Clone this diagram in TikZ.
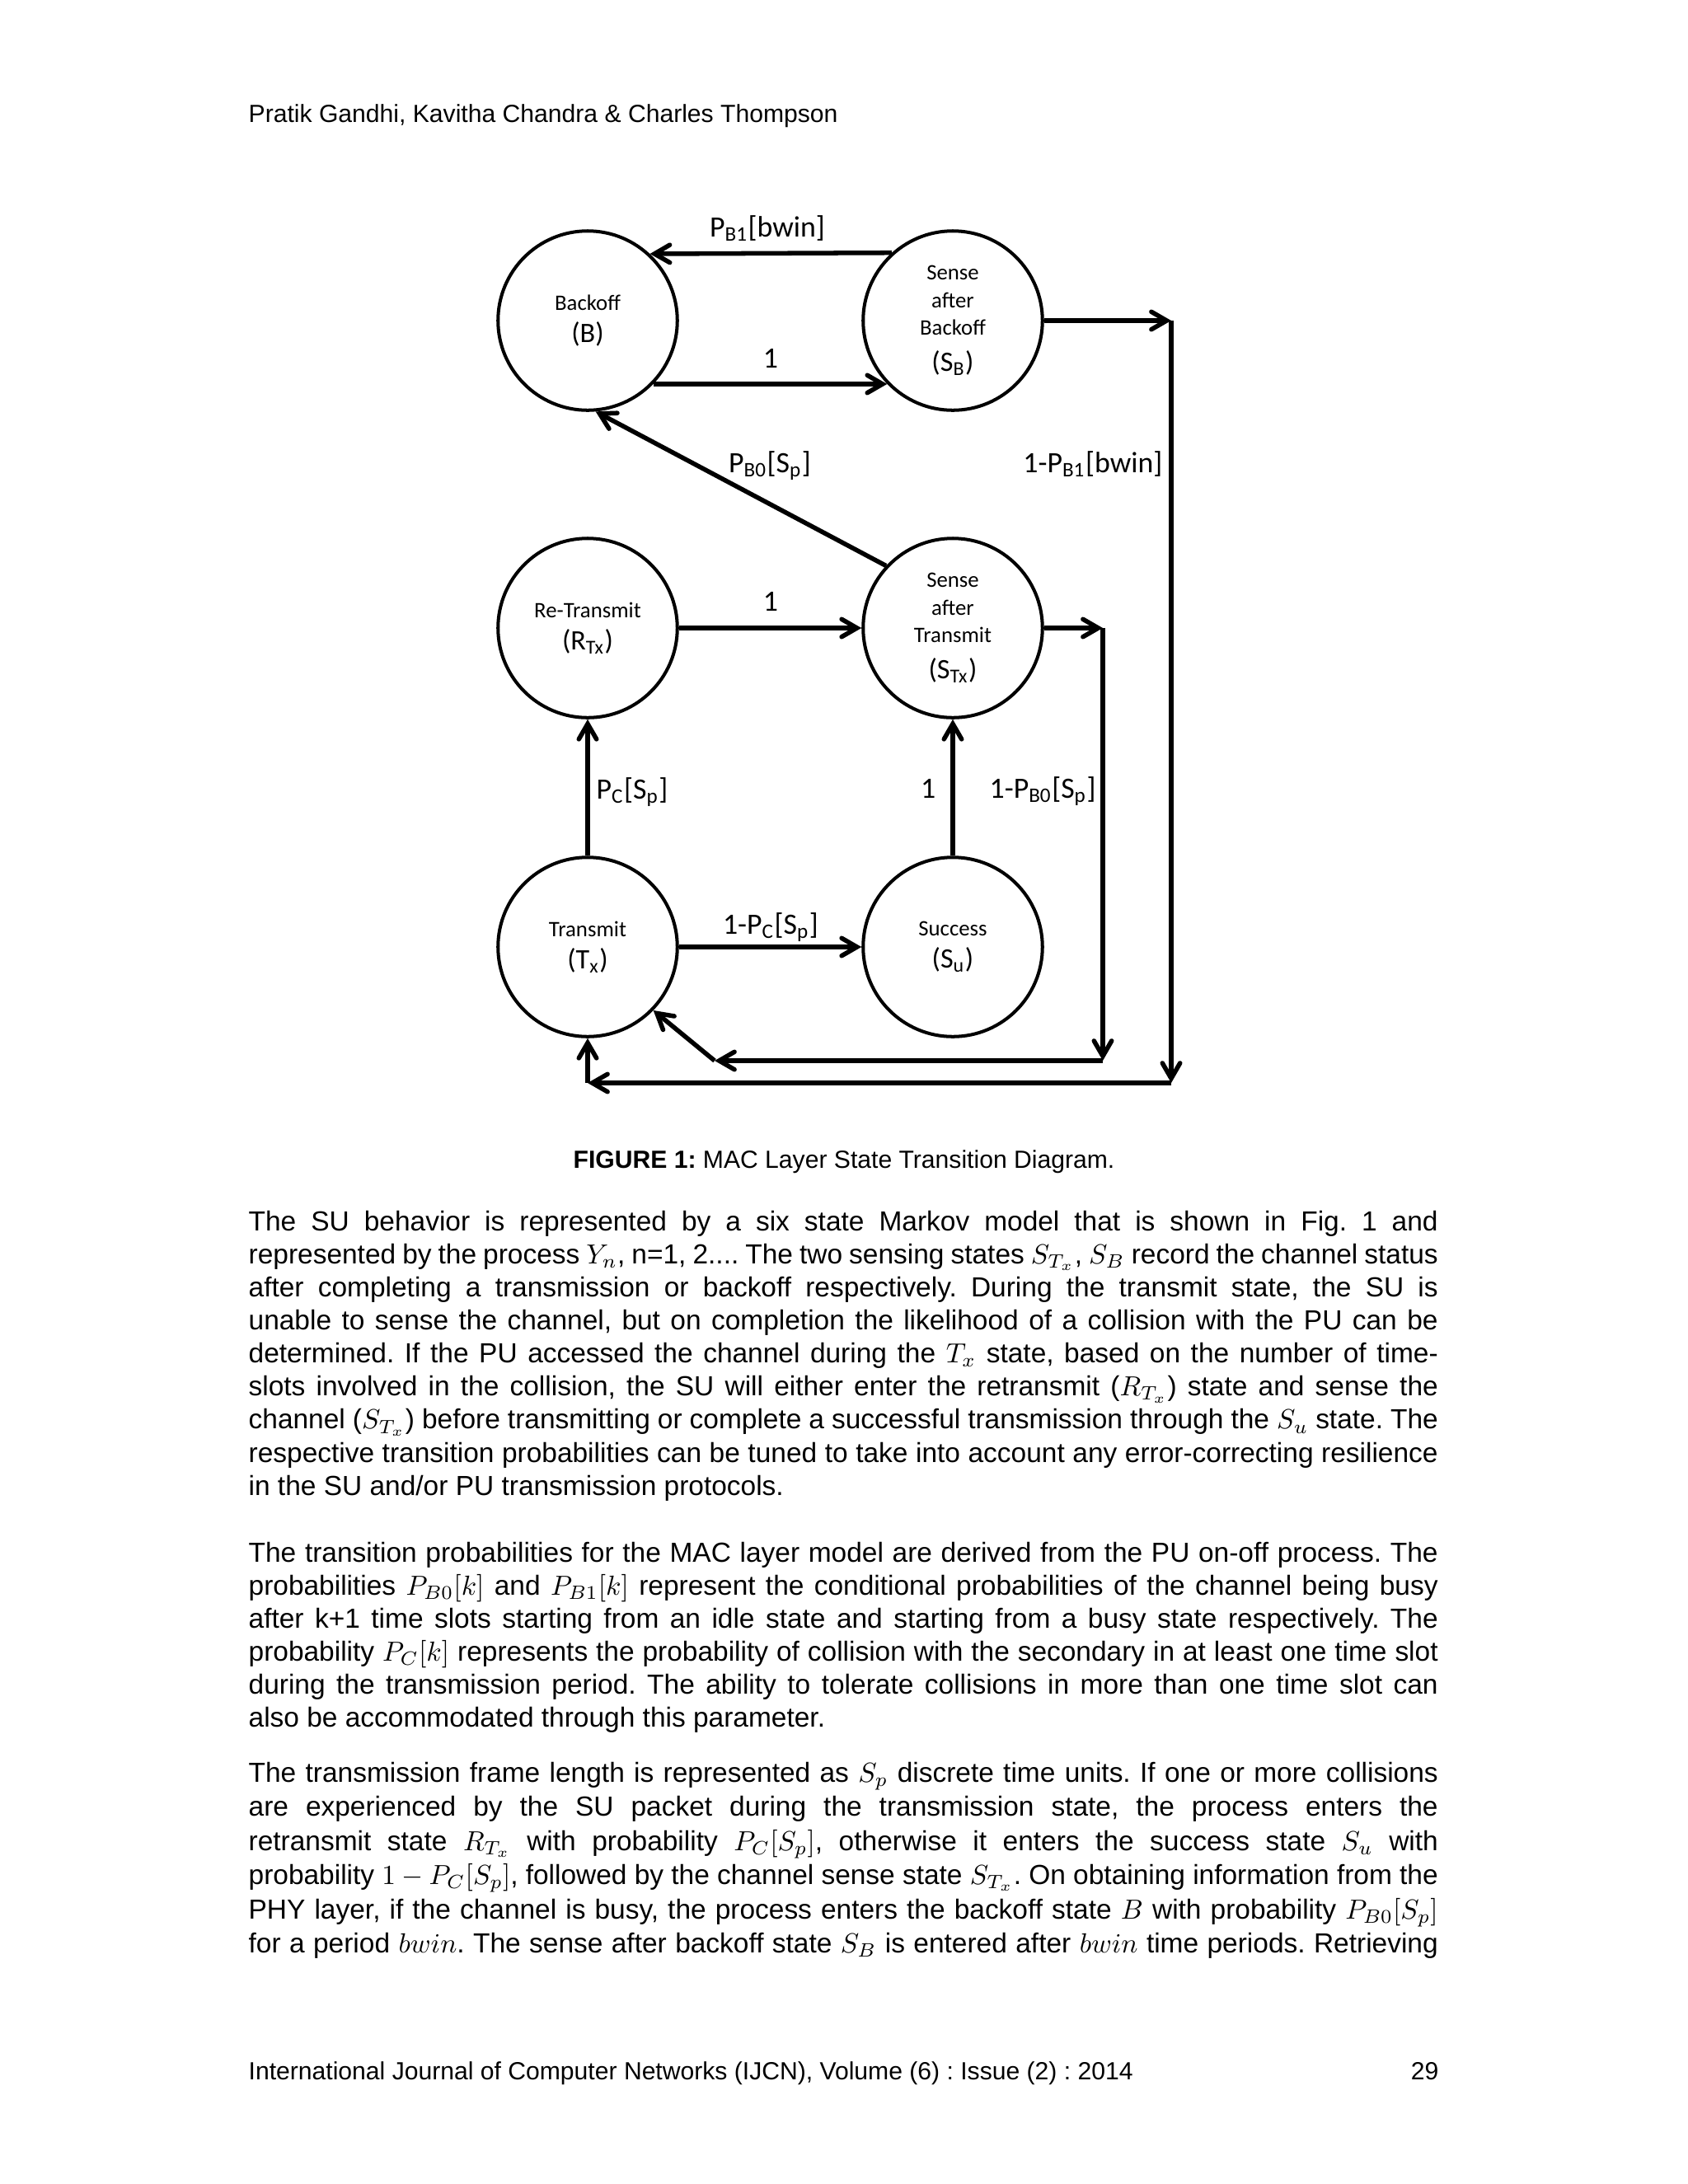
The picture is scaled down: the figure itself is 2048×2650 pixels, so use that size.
\documentclass[tikz,border=0pt]{standalone}
\usepackage{fontspec}
\setmainfont{Liberation Sans}
\newfontfamily\diagfont{Carlito}
\usetikzlibrary{arrows}
\frenchspacing

\newcommand\stname[1]{{\fontsize{8}{10}\selectfont #1}}
\newcommand\stsym[1]{{\fontsize{10.2}{12}\selectfont #1}}

\tikzset{
  state/.style={circle,draw,line width=1.2pt,minimum size=65pt,inner sep=0pt,
    align=center,font=\diagfont\fontsize{8}{10}\selectfont},
  trans/.style={line width=1.65pt,-{angle 60}},
  prob/.style={inner sep=0pt,anchor=base,font=\diagfont\fontsize{10.7}{12}\selectfont},
  para/.style={inner sep=0pt,anchor=base west,text width=431.2pt,align=justify,
    font=\fontsize{10}{12}\selectfont},
  small9/.style={inner sep=0pt,font=\fontsize{9}{11}\selectfont},
}

\begin{document}
\begin{tikzpicture}[x=0.2988pt,y=-0.2988pt]
  \fill[white] (0,0) rectangle (2048,2650);

  \node[small9,anchor=base west] (head) at (301,148)
    {Pratik Gandhi, Kavitha Chandra \& Charles Thompson};

  % the six states
  \node[state] (B)   at (713,389)  {\stname{Backoff}\\[1.7pt]\stsym{(B)}};
  \node[state] (SB)  at (1156,389) {Sense\\after\\Backoff\\[3.2pt]\stsym{(S\textsubscript{B})}};
  \node[state] (RTx) at (713,762)  {\stname{Re-Transmit}\\[1.7pt]\stsym{(R\textsubscript{Tx})}};
  \node[state] (STx) at (1156,762) {Sense\\after\\Transmit\\[3.2pt]\stsym{(S\textsubscript{Tx})}};
  \node[state] (Tx)  at (713,1149) {\stname{Transmit}\\[1.7pt]\stsym{(T\textsubscript{x})}};
  \node[state] (Su)  at (1156,1149) {\stname{Success}\\[1.7pt]\stsym{(S\textsubscript{u})}};

  % corners of the return paths
  \coordinate (c1) at (1338,762);
  \coordinate (c2) at (1338,1287);
  \coordinate (c3) at (867,1287);
  \coordinate (d1) at (1421,389);
  \coordinate (d2) at (1421,1314);
  \coordinate (d3) at (713,1314);

  \draw[trans] (SB.132.3) -- (B.47.7);
  \draw[trans] (B.-44) -- (SB.-136);
  \draw[trans] (STx.137) -- (B.-85);
  \draw[trans] (RTx) -- (STx);
  \draw[trans] (Tx) -- (Su);
  \draw[trans] (Tx) -- (RTx);
  \draw[trans] (Su) -- (STx);

  \draw[trans] (STx) -- (c1);
  \draw[trans] (c1) -- (c2);
  \draw[trans] (c2) -- (c3);
  \draw[trans] (c3) -- (Tx.-44);

  \draw[trans] (SB) -- (d1);
  \draw[trans] (d1) -- (d2);
  \draw[trans] (d2) -- (d3);
  \draw[trans] (d3) -- (Tx);

  % transition probabilities
  \node[prob] (lbwin) at (931,287) {P\textsubscript{B1}[bwin]};
  \node[prob] (lone1) at (935,446) {1};
  \node[prob] (lpbo)  at (934,573) {P\textsubscript{B0}[S\textsubscript{p}]};
  \node[prob,anchor=base east] (lstay) at (1411,573) {1-P\textsubscript{B1}[bwin]};
  \node[prob] (lone2) at (935,741) {1};
  \node[prob,anchor=base west] (lpc) at (723,969) {P\textsubscript{C}[S\textsubscript{p}]};
  \node[prob,anchor=base east] (lone3) at (1136,968) {1};
  \node[prob,anchor=base west] (lpbon) at (1200,968) {1-P\textsubscript{B0}[S\textsubscript{p}]};
  \node[prob] (lpcn) at (935,1133) {1-P\textsubscript{C}[S\textsubscript{p}]};

  \node[small9,anchor=base] (cap) at (1024,1417)
    {\textbf{FIGURE 1:} MAC Layer State Transition Diagram.};

  % body text
  \node[para] (par1) at (301,1493) {The SU behavior is represented by a six state Markov model that is shown in Fig. 1 and\linebreak
    represented by the process $Y_n$, n=1, 2.... The two sensing states $S_{T_x}$, $S_B$ record the channel status\linebreak
    after completing a transmission or backoff respectively. During the transmit state, the SU is\linebreak
    unable to sense the channel, but on completion the likelihood of a collision with the PU can be\linebreak
    determined. If the PU accessed the channel during the $T_x$ state, based on the number of time-\linebreak
    slots involved in the collision, the SU will either enter the retransmit ($R_{T_x}$) state and sense the\linebreak
    channel ($S_{T_x}$) before transmitting or complete a successful transmission through the $S_u$ state. The\linebreak
    respective transition probabilities can be tuned to take into account any error-correcting resilience\linebreak
    in the SU and/or PU transmission protocols.};

  \node[para] (par2) at (301,1895) {The transition probabilities for the MAC layer model are derived from the PU on-off process. The\linebreak
    probabilities $P_{B0}[k]$ and $P_{B1}[k]$ represent the conditional probabilities of the channel being busy\linebreak
    after k+1 time slots starting from an idle state and starting from a busy state respectively. The\linebreak
    probability $P_C[k]$ represents the probability of collision with the secondary in at least one time slot\linebreak
    during the transmission period. The ability to tolerate collisions in more than one time slot can\linebreak
    also be accommodated through this parameter.};

  \node[para,font=\fontsize{10}{12.4}\selectfont] (par3) at (301,2162) {\parfillskip=0pt
    The transmission frame length is represented as $S_p$ discrete time units. If one or more collisions\linebreak
    are experienced by the SU packet during the transmission state, the process enters the\linebreak
    retransmit state $R_{T_x}$ with probability $P_C[S_p]$, otherwise it enters the success state $S_u$ with\linebreak
    probability $1-P_C[S_p]$, followed by the channel sense state $S_{T_x}$. On obtaining information from the\linebreak
    PHY layer, if the channel is busy, the process enters the backoff state $B$ with probability $P_{B0}[S_p]$\linebreak
    for a period $bwin$. The sense after backoff state $S_B$ is entered after $bwin$ time periods. Retrieving\par};

  \node[small9,anchor=base west] (foot) at (301,2523)
    {International Journal of Computer Networks (IJCN), Volume (6) : Issue (2) : 2014};
  \node[small9,anchor=base east] (pnum) at (1746,2523) {29};
\end{tikzpicture}
\end{document}
